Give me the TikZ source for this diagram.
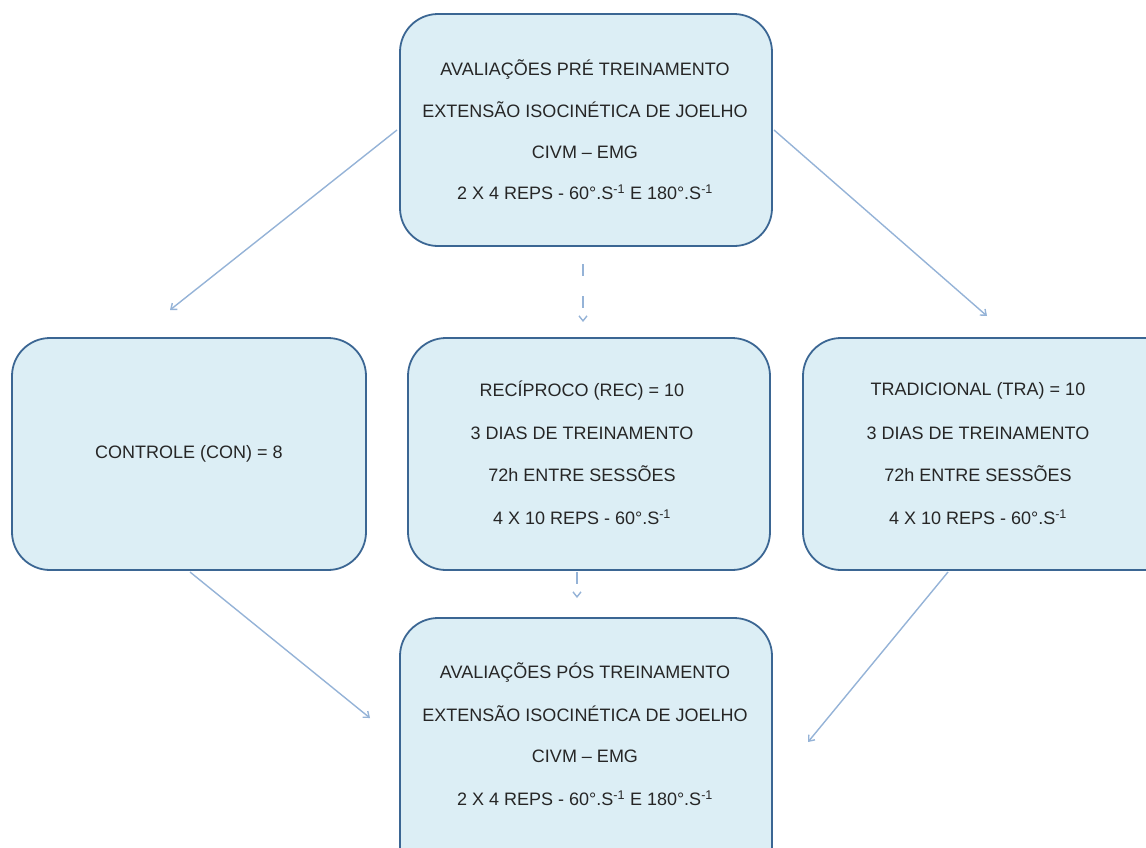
\documentclass[tikz,border=0pt]{standalone}
\usepackage{fontspec}
\setmainfont{Liberation Sans}
\usetikzlibrary{arrows.meta}
\definecolor{boxfill}{HTML}{DCEEF5}
\definecolor{boxline}{HTML}{3B6693}
\definecolor{arrowc}{HTML}{95B3D7}
\begin{document}
\begin{tikzpicture}[x=1pt,y=-1pt,
  box/.style={draw=boxline, line width=1.8pt, fill=boxfill, rounded corners=38pt},
  txt/.style={font=\fontsize{18}{20}\selectfont, text=black!85, inner sep=0pt},
  conn/.style={draw=arrowc, line width=1.4pt, -{Straight Barb[length=5pt,width=8pt]}},
  dconn/.style={conn, dash pattern=on 12pt off 20pt}]
\useasboundingbox (0,0) rectangle (1146,847);
\clip (0,0) rectangle (1146,847);
% boxes
\draw[box] (400,14) rectangle (772,246);
\draw[box] (12,338) rectangle (366,570);
\draw[box] (408,338) rectangle (770,570);
\draw[box] (803,338) rectangle (1185,570);
\draw[box] (400,618) rectangle (772,900);
% texts
\node[txt] (t1) at (585,70) {AVALIAÇÕES PRÉ TREINAMENTO};
\node[txt] (t2) at (585,110) {EXTENSÃO ISOCINÉTICA DE JOELHO};
\node[txt] (t3) at (585,152) {CIVM – EMG};
\node[txt] (t4) at (585,192) {2 X 4 REPS - 60°.S\textsuperscript{-1} E 180°.S\textsuperscript{-1}};
\node[txt] (c1) at (189,454) {CONTROLE (CON) = 8};
\node[txt] (r1) at (582,391) {RECÍPROCO (REC) = 10};
\node[txt] (r2) at (582,433) {3 DIAS DE TREINAMENTO};
\node[txt] (r3) at (582,474) {72h ENTRE SESSÕES};
\node[txt] (r4) at (582,517) {4 X 10 REPS - 60°.S\textsuperscript{-1}};
\node[txt] (d1) at (978,391) {TRADICIONAL (TRA) = 10};
\node[txt] (d2) at (978,433) {3 DIAS DE TREINAMENTO};
\node[txt] (d3) at (978,474) {72h ENTRE SESSÕES};
\node[txt] (d4) at (978,517) {4 X 10 REPS - 60°.S\textsuperscript{-1}};
\node[txt] (b1) at (585,672) {AVALIAÇÕES PÓS TREINAMENTO};
\node[txt] (b2) at (585,714) {EXTENSÃO ISOCINÉTICA DE JOELHO};
\node[txt] (b3) at (585,756) {CIVM – EMG};
\node[txt] (b4) at (585,798) {2 X 4 REPS - 60°.S\textsuperscript{-1} E 180°.S\textsuperscript{-1}};
% connector end points
\coordinate (a1s) at (397,130);
\coordinate (a1e) at (170,310);
\coordinate (a2s) at (774,130);
\coordinate (a2e) at (987,316);
\coordinate (a3s) at (583,264);
\coordinate (a3e) at (583,322);
\coordinate (a4s) at (577,572);
\coordinate (a4e) at (577,598);
\coordinate (a5s) at (190,572);
\coordinate (a5e) at (370,718);
\coordinate (a6s) at (948,572);
\coordinate (a6e) at (808,742);
\draw[conn] (a1s) -- (a1e);
\draw[conn] (a2s) -- (a2e);
\draw[dconn] (a3s) -- (a3e);
\draw[dconn] (a4s) -- (a4e);
\draw[conn] (a5s) -- (a5e);
\draw[conn] (a6s) -- (a6e);
\end{tikzpicture}
\end{document}
